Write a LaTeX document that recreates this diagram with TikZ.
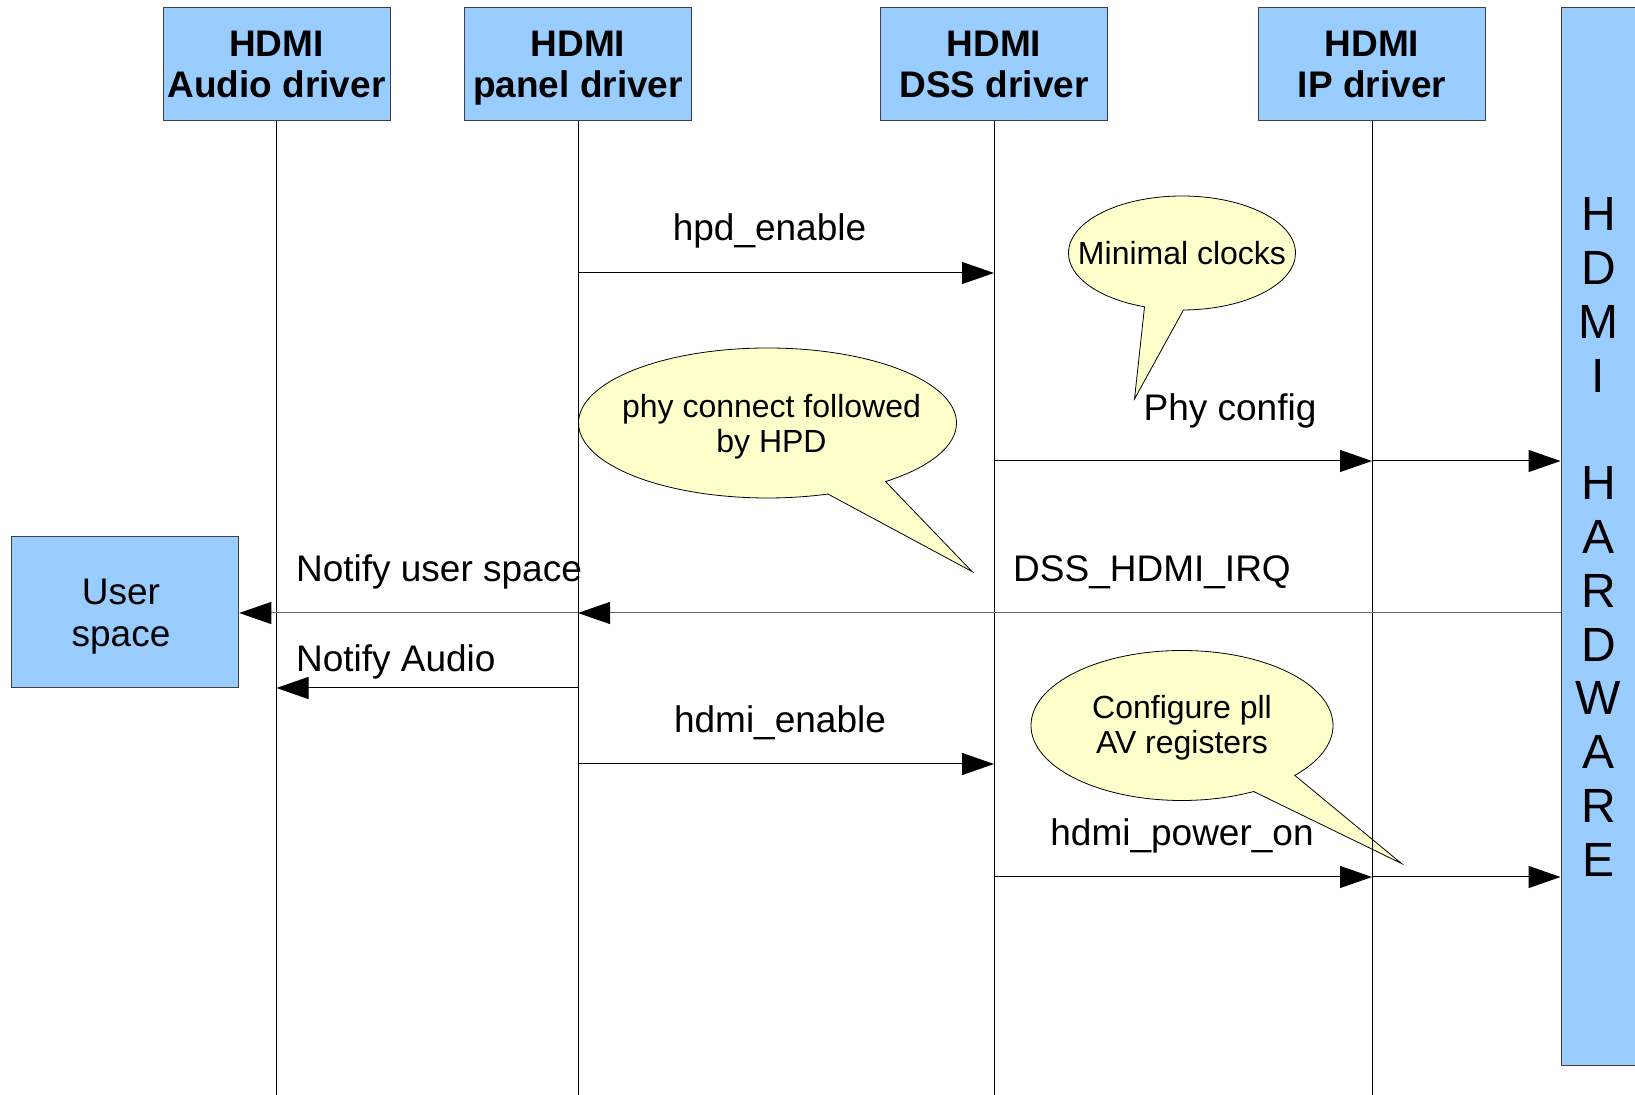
\documentclass[tikz,border=0pt]{standalone}
\usepackage{fontspec}
\setmainfont{Liberation Sans}
\usetikzlibrary{arrows.meta,shapes.geometric,shapes.callouts}
\definecolor{boxblue}{HTML}{99CCFF}
\definecolor{noteyellow}{HTML}{FFFFCC}

\begin{document}
\begin{tikzpicture}[x=0.5pt,y=-0.5pt,
  box/.style={draw=black!75,fill=boxblue,line width=0.5pt,inner sep=0pt,align=center,
    minimum width=113.5pt,minimum height=56.5pt,font=\fontsize{18.5}{20.3}\selectfont\bfseries},
  msg/.style={-{Triangle[length=16pt,width=11pt,color=black]},line width=0.5pt},
  lbl/.style={font=\fontsize{18.5}{22}\selectfont},
  note/.style={ellipse callout,draw=black,fill=noteyellow,line width=0.4pt,inner sep=0pt,
    callout pointer arc=20},
  notetext/.style={align=center,font=\fontsize{16}{17.7}\selectfont}]
  \useasboundingbox (0,0) rectangle (1635,1095);
  \clip (0,0) rectangle (1635,1095);

  % driver boxes
  \node[box] (audio) at (276.5,64.5) {HDMI\\Audio driver};
  \node[box] (panel) at (578,64.5) {HDMI\\\smash{panel driver}};
  \node[box] (dss) at (994,64.5) {HDMI\\DSS driver};
  \node[box] (ip) at (1372,64.5) {HDMI\\IP driver};
  \node[box,minimum width=37.5pt,minimum height=529pt,font=\fontsize{24}{26.9}\selectfont]
    (hw) at (1598.5,537) {H\\D\\M\\I\\\mbox{}\\H\\A\\R\\D\\W\\A\\R\\E};
  \node[box,minimum width=113.75pt,minimum height=75.5pt,font=\fontsize{18.5}{21}\selectfont]
    (user) at (125,612.5) {\rule{0pt}{17pt}User\hspace*{4pt}\\space\hspace*{4pt}};

  % callouts
  \coordinate (clktip) at (1134.5,399);
  \coordinate (hpdtip) at (972,571.5);
  \coordinate (plltip) at (1401.5,863.5);
  \node[note,minimum width=113.5pt,minimum height=57pt,callout absolute pointer={(clktip)},
    label={[notetext]center:Minimal clocks}] (clk) at (1182,253) {};
  \node[note,minimum width=189pt,minimum height=75pt,callout absolute pointer={(hpdtip)},
    label={[notetext,xshift=2pt,yshift=-2pt]center:{phy connect followed\\by HPD}}] (hpd) at (767.5,423) {};
  \node[note,minimum width=151pt,minimum height=75pt,callout absolute pointer={(plltip)},
    label={[notetext,yshift=-1pt]center:{Configure pll\\AV registers}}] (pll) at (1182,725.5) {};

  % lifelines
  \foreach \n in {audio,panel,dss,ip}
    \draw[line width=0.5pt] (\n.south) -- (\n.south |- 0,1095);

  % messages
  \draw[msg] (panel |- 0,273) -- (dss |- 0,273);
  \draw[msg] (dss |- 0,461) -- (ip |- 0,461);
  \draw[msg] (ip |- 0,461) -- (hw.west |- 0,461);
  \draw[msg,draw=black!60] (hw.west |- 0,613) -- (panel |- 0,613);
  \draw[msg,draw=black!60] (panel |- 0,613) -- (user.east |- 0,613);
  \draw[msg] (panel |- 0,688) -- (audio |- 0,688);
  \draw[msg] (panel |- 0,764) -- (dss |- 0,764);
  \draw[msg] (dss |- 0,877) -- (ip |- 0,877);
  \draw[msg] (ip |- 0,877) -- (hw.west |- 0,877);

  % message labels
  \node[lbl] (l1) at (769.5,231) {hpd\_enable};
  \node[lbl] (l2) at (1230,411) {Phy config};
  \node[lbl] (l3) at (1152,572) {DSS\_HDMI\_IRQ};
  \node[lbl,anchor=west] (l4) at (289,572) {Notify user space};
  \node[lbl,anchor=west] (l5) at (289,662) {Notify Audio};
  \node[lbl] (l6) at (780,723) {hdmi\_enable};
  \node[lbl] (l7) at (1182,836) {hdmi\_power\_on};
\end{tikzpicture}
\end{document}
